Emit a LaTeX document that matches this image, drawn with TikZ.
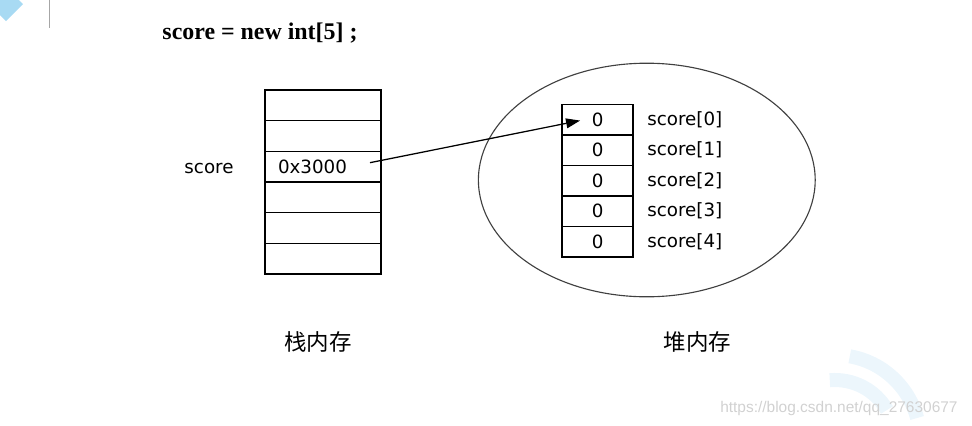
\documentclass[tikz,border=0pt]{standalone}
\usepackage{fontspec}
\usepackage{tikz}
\usetikzlibrary{arrows.meta}
\setmainfont{Liberation Serif}
\setsansfont{DejaVu Sans}
\newfontfamily\cjk{Noto Sans CJK SC}
\newfontfamily\wmfont{Liberation Sans}
\definecolor{wmblue}{RGB}{236,246,252}
\definecolor{tabblue}{RGB}{168,218,243}

\begin{document}
\begin{tikzpicture}[
  cell/.style={draw, line width=0.9pt, inner sep=0pt, outer sep=0pt, font=\sffamily\fontsize{13}{15}\selectfont},
  stackcell/.style={cell, minimum width=2.9cm, minimum height=0.767cm},
  heapcell/.style={cell, minimum width=1.775cm, minimum height=0.7625cm},
  lbl/.style={inner sep=0pt, font=\sffamily\fontsize{13}{15}\selectfont},
  cjklbl/.style={inner sep=0pt, font=\cjk\fontsize{16}{19}\selectfont}]
\useasboundingbox (0,0) rectangle (24.3,-10.65);

\fill[tabblue] (0,0) -- (0.475,0) -- (0.575,-0.1) -- (0.15,-0.525) -- (0,-0.375) -- cycle;
\draw[gray!70, line width=0.7pt] (1.225,0) -- (1.225,-0.7);
\draw[wmblue, line width=10pt] (20.875,-11) ++(80:2.125) arc (80:15:2.125);
\draw[wmblue, line width=10pt] (20.875,-11) ++(95:1.5) arc (95:30:1.5);

\node (0) at (6.5,-0.82) {\fontsize{17}{19}\selectfont\bfseries score = new int[5] ;};

\node[stackcell] (11) at (8.075,-2.633) {};
\node[stackcell] (12) at (8.075,-3.4) {};
\node[stackcell, text width=2.25cm, inner xsep=0.325cm, align=left] (13) at (8.075,-4.167) {0x3000};
\node[stackcell] (14) at (8.075,-4.933) {};
\node[stackcell] (15) at (8.075,-5.7) {};
\node[stackcell] (16) at (8.075,-6.467) {};
\node[lbl] (10) at (5.225,-4.22) {score};

\draw[black!75, line width=0.8pt] (16.17,-4.5) ellipse [x radius=4.21, y radius=2.92];

\node[heapcell] (20) at (14.94,-2.994) {0};
\node[heapcell] (21) at (14.94,-3.756) {0};
\node[heapcell] (22) at (14.94,-4.519) {0};
\node[heapcell] (23) at (14.94,-5.281) {0};
\node[heapcell] (24) at (14.94,-6.044) {0};

\node[lbl, anchor=west] (30) at (16.175,-2.994) {score[0]};
\node[lbl, anchor=west] (31) at (16.175,-3.756) {score[1]};
\node[lbl, anchor=west] (32) at (16.175,-4.519) {score[2]};
\node[lbl, anchor=west] (33) at (16.175,-5.281) {score[3]};
\node[lbl, anchor=west] (34) at (16.175,-6.044) {score[4]};

\coordinate (ptr) at ([xshift=-0.275cm,yshift=0.1cm]13.east);
\coordinate (tip) at ([xshift=0.45cm,yshift=-0.02cm]20.west);
\draw[-{Triangle[length=10pt,width=7pt]}, line width=0.9pt] (ptr) -- (tip);

\node[cjklbl] (40) at (7.95,-8.55) {栈内存};
\node[cjklbl] (41) at (17.44,-8.55) {堆内存};

\node[anchor=west, inner sep=0pt, text=black!18, font=\wmfont\fontsize{11}{13}\selectfont] (50) at (18.0,-10.2) {https://blog.csdn.net/qq\_27630677};
\end{tikzpicture}
\end{document}
